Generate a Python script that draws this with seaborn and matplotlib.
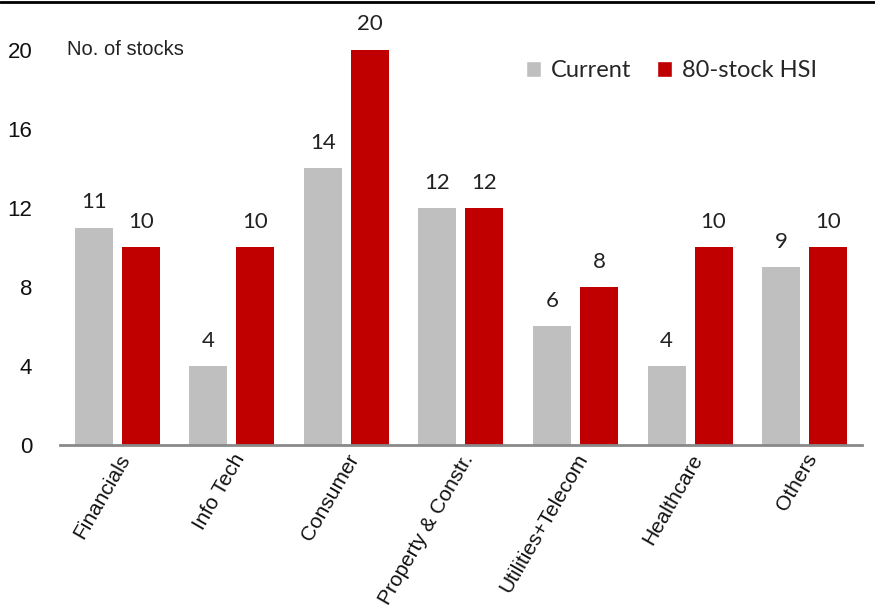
import pandas as pd
import matplotlib.pyplot as plt
import seaborn as sns
from matplotlib.lines import Line2D
from matplotlib.patches import Patch

sectors = ['Financials', 'Info Tech', 'Consumer', 'Property & Constr.',
           'Utilities+Telecom', 'Healthcare', 'Others']
current = [11, 4, 14, 12, 6, 4, 9]
hsi80 = [10, 10, 20, 12, 8, 10, 10]
series = ['Current', '80-stock HSI']
colors = ['#BFBFBF', '#C00000']
yticks = [0, 4, 8, 12, 16, 20]

df = pd.concat([
    pd.DataFrame({'sector': sectors, 'count': current, 'series': series[0]}),
    pd.DataFrame({'sector': sectors, 'count': hsi80, 'series': series[1]}),
])

sns.set_style('white')
plt.rcParams['font.family'] = ['Liberation Sans', 'DejaVu Sans']

fig = plt.figure(figsize=(8.75, 6.08), dpi=100)
ax = fig.add_axes([0.0686, 0.268, 0.9164, 0.699])

sns.barplot(data=df, x='sector', y='count', hue='series', palette=colors,
            width=0.82, gap=0.19, linewidth=0, ax=ax, legend=False, saturation=1)

for cont in ax.containers:
    ax.bar_label(cont, padding=11, fontsize=16, family='Lato', color='#222222')

ax.set_ylim(0, 21.5)
ax.set_xlim(-0.5, len(sectors) - 0.5)
ax.set_yticks(yticks)
ax.tick_params(axis='y', length=0, pad=20, labelsize=16, labelcolor='#111111')
ax.tick_params(axis='x', length=0, pad=4, labelsize=15, labelcolor='#111111')
plt.setp(ax.get_xticklabels(), rotation=60, ha='right', rotation_mode='anchor')
ax.set_xlabel('')
ax.set_ylabel('')

for s in ['left', 'right', 'top']:
    ax.spines[s].set_visible(False)
ax.spines['bottom'].set_color('#898989')
ax.spines['bottom'].set_linewidth(2)

ax.text(0.009, 20, 'No. of stocks', transform=ax.get_yaxis_transform(),
        va='center', ha='left', fontsize=14.5, color='#222222')

handles = [Patch(facecolor=c, label=l) for c, l in zip(colors, series)]
ax.legend(handles=handles, loc='upper right', bbox_to_anchor=(0.97, 0.955),
          ncol=2, frameon=False, prop={'family': 'Lato', 'size': 17},
          handlelength=0.65, handleheight=0.65, handletextpad=0.4, columnspacing=1.1)

fig.add_artist(Line2D([0, 1], [0.997, 0.997], color='black', lw=2,
                      transform=fig.transFigure))

fig.savefig('out.png', dpi=100)
